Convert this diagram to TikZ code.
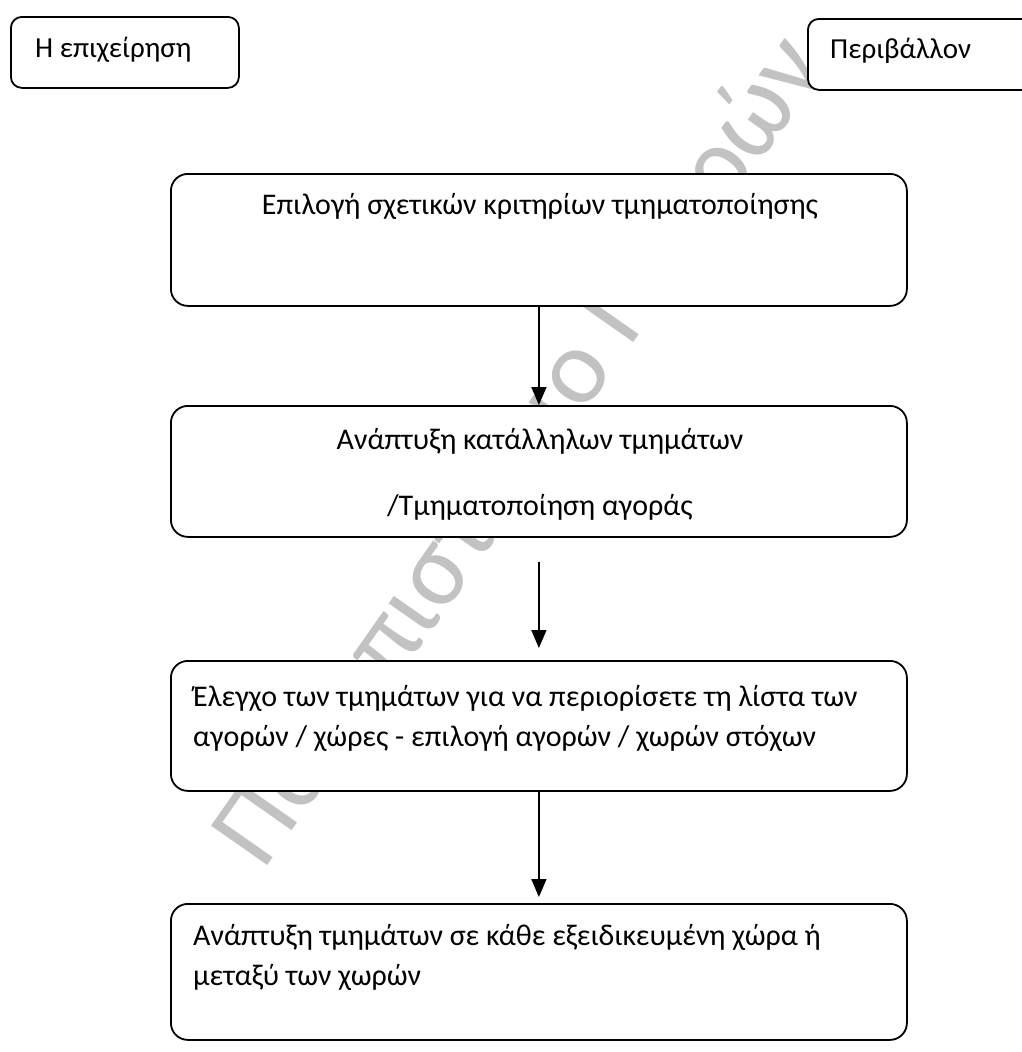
\documentclass[tikz,border=0pt]{standalone}
\usepackage{fontspec}
\setmainfont{Carlito}
\usetikzlibrary{arrows.meta}
\begin{document}
\begin{tikzpicture}[x=1pt,y=-1pt,
  box/.style={draw=black, line width=1.8pt, fill=white, rounded corners=17pt, anchor=north west, inner sep=0pt},
  smallbox/.style={box, rounded corners=11pt},
  txt/.style={font=\fontsize{30pt}{40pt}\selectfont, inner sep=0pt, text=black},
  toptxt/.style={txt, font=\fontsize{29pt}{40pt}\selectfont},
  arr/.style={line width=1.5pt, -{Triangle[width=15pt,length=18pt]}},
  wm/.style={font=\fontsize{107pt}{107pt}\selectfont, text=black!24, rotate=55, inner sep=0pt}]
\useasboundingbox (0,0) rectangle (1022,1052);
\fill[white] (0,0) rectangle (1022,1052);
% watermark
\node[wm] (wm) at (522,452) {Πανεπιστήμιο Πατρών};
% top boxes
\node[smallbox, minimum width=228pt, minimum height=71pt] (firm) at (10,16) {};
\node[toptxt, anchor=base west] (firmt) at (35,57) {Η επιχείρηση};
\node[smallbox, minimum width=225pt, minimum height=71pt] (env) at (807,18) {};
\node[toptxt, anchor=base west] (envt) at (830,58) {Περιβάλλον};
% main flow boxes
\node[box, minimum width=736pt, minimum height=132pt] (b1) at (170,173) {};
\node[txt, anchor=base] (b1t) at (540,214) {Επιλογή σχετικών κριτηρίων τμηματοποίησης};
\node[box, minimum width=736pt, minimum height=131pt] (b2) at (170,405) {};
\node[txt, anchor=base] (b2t) at (540,449) {Ανάπτυξη κατάλληλων τμημάτων};
\node[txt, anchor=base] (b2u) at (540,515) {/Τμηματοποίηση αγοράς};
\node[box, minimum width=736pt, minimum height=130pt] (b3) at (170,660) {};
\node[txt, anchor=base west] (b3t) at (193,706) {Έλεγχο των τμημάτων για να περιορίσετε τη λίστα των};
\node[txt, anchor=base west] (b3u) at (193,746) {αγορών / χώρες - επιλογή αγορών / χωρών στόχων};
\node[box, minimum width=736pt, minimum height=136pt] (b4) at (170,903) {};
\node[txt, anchor=base west] (b4t) at (193,945) {Ανάπτυξη τμημάτων σε κάθε εξειδικευμένη χώρα ή};
\node[txt, anchor=base west] (b4u) at (193,985) {μεταξύ των χωρών};
% arrows
\draw[arr] (b1.south) -- (b2.north);
\draw[arr] ([yshift=-24pt]b2.south) -- ([yshift=12pt]b3.north);
\draw[arr] (b3.south) -- ([yshift=6pt]b4.north);
\end{tikzpicture}
\end{document}
